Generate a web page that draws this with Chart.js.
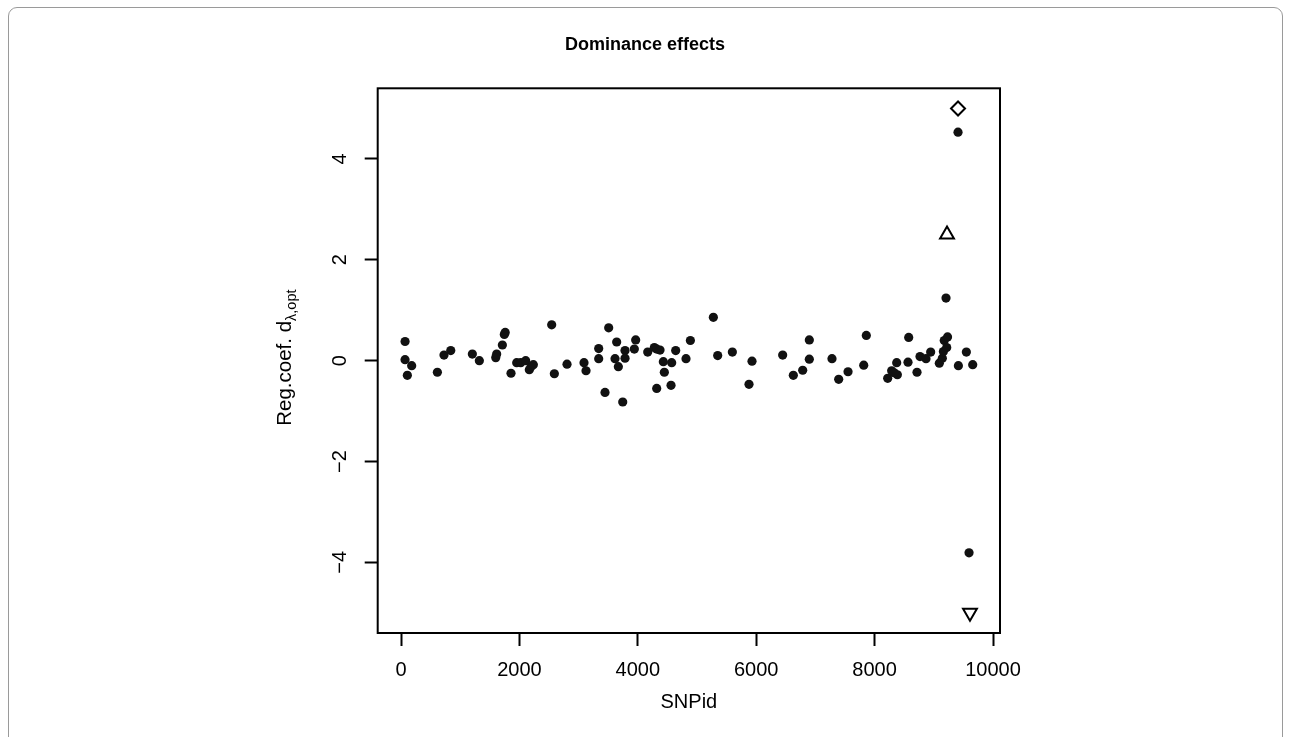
<!DOCTYPE html>
<html>
<head>
<meta charset="utf-8">
<script src="https://cdn.jsdelivr.net/npm/chart.js@4/dist/chart.umd.min.js"></script>
<style>
  html, body { margin: 0; padding: 0; background: #fff; overflow: hidden; }
  #wrap { position: relative; width: 1290px; height: 737px; }
  #frame { position: absolute; left: 8px; top: 7px; width: 1275px; height: 780px;
           border: 1px solid #9a9a9a; border-radius: 9px; box-sizing: border-box; }
  canvas { position: absolute; left: 0; top: 0; }
</style>
</head>
<body>
<div id="wrap">
  <div id="frame"></div>
  <canvas id="c" width="1290" height="737"></canvas>
</div>
<script>
// ---- data ----
const titleText = "Dominance effects";
const xLabel = "SNPid";
const yLabelMain = "Reg.coef. d";
const yLabelSub = "\u03bb,opt";

const xTickValues = [0, 2000, 4000, 6000, 8000, 10000];
const xTickLabels = ["0", "2000", "4000", "6000", "8000", "10000"];
const yTickValues = [-4, -2, 0, 2, 4];
const yTickLabels = ["\u22124", "\u22122", "0", "2", "4"];

const dotX = [68, 68, 180, 107, 614, 726, 840, 1205, 1323, 1600, 1616, 1712, 1745, 1760, 1858, 1954, 2022, 2106, 2167, 2196,
  2235, 2545, 2590, 2804, 3091, 3125, 3339, 3339, 3446, 3508, 3643, 3615, 3671, 3745, 3784, 3784, 3964, 3941, 4167, 4279,
  4319, 4375, 4319, 4431, 4572, 4448, 4561, 4640, 4814, 4888,
  5276, 5349, 5597, 5929, 5878, 6447, 6627, 6785, 6897, 6897, 7280, 7393, 7551, 7816, 7860, 8221, 8288, 8373, 8384, 8330,
  8564, 8576, 8716, 8767, 8868, 8947, 9093, 9144, 9162, 9176, 9232, 9218, 9415, 9550, 9657,
  9206, 9409, 9595];
const dotY = [0.38, 0.02, -0.10, -0.29, -0.23, 0.11, 0.20, 0.13, 0.00, 0.06, 0.13, 0.31, 0.52, 0.56, -0.25, -0.04, -0.04, 0.00, -0.18, -0.12,
  -0.08, 0.71, -0.26, -0.07, -0.04, -0.20, 0.24, 0.04, -0.63, 0.65, 0.37, 0.04, -0.12, -0.82, 0.20, 0.05, 0.41, 0.23, 0.17, 0.26,
  0.23, 0.21, -0.55, -0.02, -0.04, -0.23, -0.49, 0.20, 0.04, 0.40,
  0.86, 0.10, 0.17, -0.01, -0.47, 0.11, -0.29, -0.19, 0.41, 0.03, 0.04, -0.37, -0.22, -0.09, 0.50, -0.35, -0.20, -0.04, -0.28, -0.24,
  -0.03, 0.46, -0.23, 0.08, 0.04, 0.17, -0.05, 0.05, 0.18, 0.40, 0.47, 0.26, -0.10, 0.17, -0.08,
  1.24, 4.53, -3.81];

const diamondX = [9409];
const diamondY = [5.0];
const triUpX = [9223];
const triUpY = [2.5];
const triDownX = [9611];
const triDownY = [-5.0];

const xMin = -394, xMax = 10118;
const yMin = -5.4, yMax = 5.4;

// ---- chart ----
const FONT = "'Liberation Sans', Arial, Helvetica, sans-serif";
Chart.defaults.color = '#000';
Chart.defaults.font.family = FONT;

const toPts = (xs, ys) => xs.map((x, i) => ({ x: x, y: ys[i] }));

const decorPlugin = {
  id: 'decor',
  afterDraw(chart) {
    const ctx = chart.ctx;
    const a = chart.chartArea;
    ctx.save();
    // plot box
    ctx.strokeStyle = '#000';
    ctx.lineWidth = 2;
    ctx.strokeRect(a.left, a.top, a.right - a.left, a.bottom - a.top);
    // title
    ctx.fillStyle = '#000';
    ctx.font = "bold 18px " + FONT;
    ctx.textAlign = 'center';
    ctx.textBaseline = 'middle';
    ctx.fillText(titleText, 645, 45);
    // x label
    ctx.font = "20px " + FONT;
    ctx.fillText(xLabel, (a.left + a.right) / 2, 702);
    // y label with subscript
    ctx.translate(291, (a.top + a.bottom) / 2 - 3);
    ctx.rotate(-Math.PI / 2);
    ctx.textAlign = 'left';
    ctx.textBaseline = 'alphabetic';
    ctx.font = "20.5px " + FONT;
    const wMain = ctx.measureText(yLabelMain).width;
    ctx.font = "14.5px " + FONT;
    const wSub = ctx.measureText(yLabelSub).width;
    const start = -(wMain + wSub) / 2;
    ctx.font = "20.5px " + FONT;
    ctx.fillText(yLabelMain, start, 0);
    ctx.font = "14.5px " + FONT;
    ctx.fillText(yLabelSub, start + wMain, 5);
    ctx.restore();
  }
};

new Chart(document.getElementById('c'), {
  type: 'scatter',
  data: {
    datasets: [
      { data: toPts(dotX, dotY), pointStyle: 'circle', pointRadius: 4.6, pointHoverRadius: 4.6,
        backgroundColor: '#111', borderColor: '#111', borderWidth: 0 },
      { data: toPts(diamondX, diamondY), pointStyle: 'rectRot', pointRadius: 7, pointHoverRadius: 7,
        backgroundColor: '#fff', borderColor: '#000', borderWidth: 2 },
      { data: toPts(triUpX, triUpY), pointStyle: 'triangle', pointRadius: 8, pointHoverRadius: 8,
        backgroundColor: '#fff', borderColor: '#000', borderWidth: 2 },
      { data: toPts(triDownX, triDownY), pointStyle: 'triangle', rotation: 180, pointRadius: 8, pointHoverRadius: 8,
        backgroundColor: '#fff', borderColor: '#000', borderWidth: 2 }
    ]
  },
  options: {
    responsive: false,
    animation: false,
    events: [],
    layout: { padding: { left: 0, top: 88.3, right: 290, bottom: 0 } },
    plugins: { legend: { display: false }, tooltip: { enabled: false }, title: { display: false } },
    scales: {
      x: {
        type: 'linear', min: xMin, max: xMax,
        afterBuildTicks: s => { s.ticks = xTickValues.map(v => ({ value: v })); },
        afterFit: s => { s.height = 104; s.paddingLeft = 0; s.paddingRight = 0; },
        ticks: { callback: (v) => xTickLabels[xTickValues.indexOf(v)], font: { size: 20 }, padding: 12, maxRotation: 0, autoSkip: false },
        grid: { display: true, drawOnChartArea: false, drawTicks: true, tickLength: 13, tickWidth: 2, tickColor: '#000' },
        border: { display: false }
      },
      y: {
        type: 'linear', min: yMin, max: yMax,
        afterBuildTicks: s => { s.ticks = yTickValues.map(v => ({ value: v })); },
        afterFit: s => { s.width = 377.7; s.paddingTop = 0; s.paddingBottom = 0; },
        ticks: { callback: (v) => yTickLabels[yTickValues.indexOf(v)], font: { size: 20 }, padding: 13,
                 minRotation: 90, maxRotation: 90, crossAlign: 'center', autoSkip: false },
        grid: { display: true, drawOnChartArea: false, drawTicks: true, tickLength: 13, tickWidth: 2, tickColor: '#000' },
        border: { display: false }
      }
    }
  },
  plugins: [decorPlugin]
});
</script>
</body>
</html>
